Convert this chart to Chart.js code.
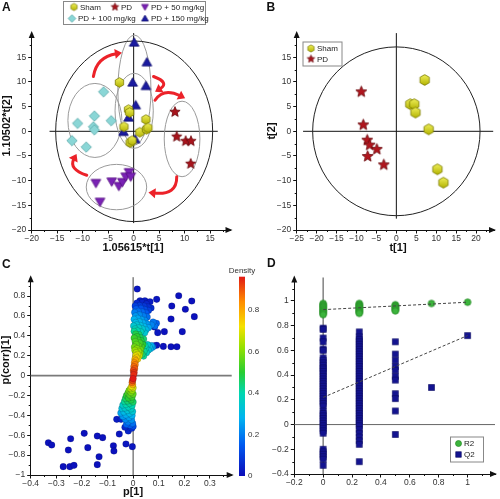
<!DOCTYPE html>
<html>
<head>
<meta charset="utf-8">
<script src="https://cdn.jsdelivr.net/npm/chart.js@4.4.1/dist/chart.umd.min.js"></script>
<style>
  html, body { margin: 0; padding: 0; background: #fff; }
  #wrap { position: relative; width: 500px; height: 499px; overflow: hidden; }
  canvas { position: absolute; }
</style>
</head>
<body>
<div id="wrap">
  <canvas id="chartA" width="250" height="260" style="left:0;top:0"></canvas>
  <canvas id="chartB" width="250" height="260" style="left:250px;top:0"></canvas>
  <canvas id="chartC" width="270" height="249" style="left:0;top:250px"></canvas>
  <canvas id="chartD" width="250" height="249" style="left:250px;top:250px"></canvas>
</div>
<script>
// ---- Panel A: scores of the five groups ----
const shamA = [[-2.8, 9.9], [-1.0, 4.4], [-0.8, 3.8], [2.4, 2.4], [-1.9, 0.9], [1.2, -0.2], [2.5, 0.4], [2.8, 0.7], [-0.7, -2.3], [-0.3, -1.9]];
const pdA = [[8.1, 3.9], [8.45, -1.1], [10.2, -2.0], [11.25, -2.0], [11.2, -6.6]];
const pd50A = [[-7.4, -10.5], [-6.6, -14.3], [-4.3, -10.2], [-2.9, -11.1], [-2.2, -10.3], [-1.55, -9.2], [-0.9, -8.3], [-0.57, -9.2]];
const pd100A = [[-5.9, 8.0], [-7.7, 3.1], [-4.4, 2.15], [-11.0, 1.6], [-7.9, 0.9], [-7.7, 0.3], [-12.1, -1.9], [-9.3, -3.2]];
const pd150A = [[0.1, 18.0], [2.6, 14.0], [-0.2, 9.9], [2.4, 9.2], [0.4, 5.3], [-1.0, 2.8], [-2.0, -0.1], [0.3, -1.6]];
// group ellipses [cx, cy, rx, ry]
const groupEllipsesA = [[0.15, 8.35, 3.25, 11.15], [0.1, 4.15, 3.75, 7.6], [-7.6, 2.2, 5.3, 7.5], [9.5, -1.55, 3.5, 7.65], [-3.37, -11.3, 5.93, 4.6]];
const hotellingA = [0.1, 0, 15.4, 18.3];
// red arrows between groups [x0, y0, xVia, yVia, x1, y1]
const arrowsA = [
  [-7.9, 11.1, -6.2, 14.3, -2.3, 15.9],
  [3.9, 11.1, 5.6, 9.7, 4.2, 8.0],
  [4.2, 6.3, 6.5, 7.7, 10.1, 6.7],
  [8.45, -9.2, 7.1, -11.9, 2.9, -12.4],
  [-9.2, -8.9, -11.5, -7.2, -11.2, -4.6]
];

// ---- Panel B: Sham vs PD ----
const shamB = [[7.1, 10.4], [3.5, 5.5], [4.5, 5.5], [4.8, 3.8], [8.1, 0.4], [10.3, -7.7], [11.8, -10.4]];
const pdB = [[-8.8, 8.0], [-8.3, 1.3], [-7.3, -1.8], [-6.7, -2.8], [-4.9, -3.65], [-7.2, -5.1], [-3.15, -6.8]];
const hotellingB = [0, 0, 21, 17.1];

// ---- Panel C: S-plot [p1, pcorr, density] ----
const cBandUpper = [
  [0.002, 0.010, 0.94], [0.004, 0.030, 0.93], [0.001, 0.050, 0.91], [0.006, 0.070, 0.89], [0.003, 0.090, 0.87],
  [0.008, 0.110, 0.85], [0.005, 0.130, 0.83], [0.010, 0.150, 0.79], [0.007, 0.165, 0.77], [0.013, 0.180, 0.74],
  [0.018, 0.168, 0.72], [0.010, 0.198, 0.71], [0.017, 0.212, 0.69], [0.024, 0.200, 0.66], [0.012, 0.232, 0.65],
  [0.021, 0.244, 0.62], [0.007, 0.255, 0.62], [0.027, 0.228, 0.60], [0.015, 0.272, 0.60], [0.029, 0.262, 0.57],
  [0.005, 0.288, 0.58], [0.021, 0.298, 0.56], [0.033, 0.288, 0.53], [0.012, 0.314, 0.56], [0.026, 0.328, 0.53],
  [0.038, 0.312, 0.50], [0.008, 0.343, 0.54], [0.019, 0.358, 0.52], [0.031, 0.352, 0.49], [0.004, 0.378, 0.52],
  [0.015, 0.392, 0.50], [0.027, 0.383, 0.47], [0.041, 0.368, 0.45], [0.010, 0.418, 0.48], [0.023, 0.412, 0.45],
  [0.035, 0.215, 0.45], [0.041, 0.196, 0.42], [0.043, 0.245, 0.42], [0.052, 0.230, 0.37], [0.046, 0.300, 0.40],
  [0.056, 0.312, 0.35], [0.049, 0.275, 0.38], [0.059, 0.256, 0.33], [0.063, 0.290, 0.31], [0.067, 0.270, 0.29],
  [0.071, 0.302, 0.27], [0.076, 0.285, 0.24],
  [0.004, 0.445, 0.42], [0.016, 0.451, 0.40], [0.030, 0.440, 0.38], [0.045, 0.430, 0.34], [0.008, 0.470, 0.38],
  [0.022, 0.481, 0.36], [0.036, 0.470, 0.34], [0.050, 0.460, 0.30], [0.002, 0.500, 0.34], [0.014, 0.511, 0.33],
  [0.028, 0.505, 0.31], [0.042, 0.495, 0.29], [0.060, 0.482, 0.26], [0.010, 0.535, 0.30], [0.024, 0.541, 0.29],
  [0.038, 0.530, 0.27], [0.054, 0.520, 0.24], [0.072, 0.510, 0.21], [0.078, 0.540, 0.19], [0.085, 0.500, 0.18],
  [0.091, 0.526, 0.16], [0.004, 0.566, 0.28], [0.018, 0.576, 0.26], [0.032, 0.565, 0.25], [0.046, 0.556, 0.22],
  [0.010, 0.600, 0.24], [0.024, 0.611, 0.22], [0.040, 0.600, 0.20], [0.055, 0.590, 0.18], [0.006, 0.636, 0.20],
  [0.020, 0.646, 0.18], [0.035, 0.640, 0.17], [0.050, 0.630, 0.15], [0.012, 0.670, 0.15], [0.030, 0.676, 0.13],
  [0.045, 0.665, 0.12], [0.060, 0.655, 0.10], [0.008, 0.700, 0.10], [0.025, 0.706, 0.09], [0.042, 0.700, 0.08],
  [0.058, 0.690, 0.07], [0.070, 0.680, 0.06], [0.015, 0.731, 0.06], [0.035, 0.736, 0.05], [0.052, 0.721, 0.05]
];
const cBandLower = [
  [0.000, -0.030, 0.96], [-0.002, -0.050, 0.92], [-0.004, -0.070, 0.87], [-0.002, -0.090, 0.79], [-0.006, -0.110, 0.71],
  [0.000, -0.122, 0.68], [-0.010, -0.131, 0.64], [-0.004, -0.150, 0.62], [-0.016, -0.151, 0.58], [-0.008, -0.170, 0.58],
  [-0.020, -0.176, 0.54], [0.000, -0.186, 0.56], [-0.012, -0.196, 0.54], [-0.026, -0.201, 0.50], [-0.004, -0.215, 0.52],
  [-0.018, -0.226, 0.50], [-0.030, -0.231, 0.46], [-0.008, -0.245, 0.48], [-0.022, -0.256, 0.45], [0.000, -0.266, 0.46],
  [-0.034, -0.261, 0.42], [-0.014, -0.280, 0.42], [-0.028, -0.291, 0.40], [-0.004, -0.300, 0.40], [-0.040, -0.296, 0.36],
  [-0.018, -0.316, 0.38], [-0.032, -0.326, 0.35], [-0.008, -0.335, 0.36], [-0.044, -0.331, 0.32], [-0.022, -0.351, 0.33],
  [-0.002, -0.361, 0.34], [-0.036, -0.366, 0.30], [-0.014, -0.381, 0.30], [-0.048, -0.376, 0.26], [-0.028, -0.396, 0.27],
  [-0.004, -0.401, 0.28], [-0.040, -0.411, 0.24], [-0.016, -0.421, 0.25], [-0.030, -0.441, 0.22], [-0.006, -0.446, 0.23],
  [-0.020, -0.466, 0.20], [-0.002, -0.481, 0.18], [-0.012, -0.500, 0.15], [-0.026, -0.491, 0.16], [0.000, -0.511, 0.12]
];
const cOutliers = [
  [0.016, 0.871, 0.02], [0.027, 0.753, 0.03], [0.046, 0.753, 0.03], [0.066, 0.743, 0.03], [0.092, 0.767, 0.02],
  [0.178, 0.804, 0.01], [0.229, 0.750, 0.01], [0.151, 0.700, 0.01], [0.204, 0.667, 0.01], [0.239, 0.593, 0.01],
  [0.148, 0.569, 0.01], [0.192, 0.442, 0.01], [0.122, 0.442, 0.01], [0.096, 0.432, 0.02], [0.083, 0.490, 0.03],
  [0.092, 0.305, 0.02], [0.118, 0.294, 0.01], [0.148, 0.291, 0.01], [0.171, 0.291, 0.01], [0.082, 0.300, 0.04],
  [-0.064, -0.440, 0.03], [-0.047, -0.440, 0.04], [-0.019, -0.557, 0.05], [-0.005, -0.530, 0.06], [-0.032, -0.520, 0.05],
  [-0.054, -0.588, 0.02], [-0.028, -0.688, 0.02], [-0.003, -0.715, 0.02], [-0.077, -0.705, 0.01], [-0.075, -0.759, 0.01],
  [-0.140, -0.608, 0.01], [-0.119, -0.624, 0.01], [-0.133, -0.816, 0.01], [-0.140, -0.896, 0.01], [-0.191, -0.581, 0.01],
  [-0.177, -0.725, 0.01], [-0.244, -0.635, 0.01], [-0.253, -0.749, 0.01], [-0.273, -0.916, 0.01], [-0.247, -0.916, 0.01],
  [-0.231, -0.903, 0.01], [-0.331, -0.675, 0.01], [-0.318, -0.698, 0.01]
];
const densityTicks = [0, 0.2, 0.4, 0.6, 0.8];
const densityMax = 0.96;

// ---- Panel D: permutation test ----
const r2At0 = [0.98, 0.97, 0.96, 0.95, 0.94, 0.93, 0.92, 0.91, 0.90, 0.89];
const r2At025 = [0.98, 0.97, 0.96, 0.95, 0.94, 0.93, 0.92, 0.91, 0.90];
const r2At05 = [0.97, 0.96, 0.95, 0.94, 0.93, 0.92];
const r2At075 = [0.98];
const r2At1 = [0.99];
const q2At0 = [0.78, 0.77, 0.70, 0.67, 0.61, 0.60, 0.54, 0.52, 0.50, 0.48, 0.46, 0.45, 0.43, 0.41, 0.39, 0.37, 0.35, 0.33,
  0.31, 0.29, 0.27, 0.25, 0.23, 0.21, 0.19, 0.17, 0.15, 0.11, 0.09, 0.07, 0.05, 0.03, 0.01, -0.01, -0.03, -0.05, -0.07,
  -0.20, -0.22, -0.24, -0.26, -0.28, -0.33];
const q2At025 = [0.75, 0.71, 0.69, 0.67, 0.65, 0.63, 0.61, 0.59, 0.57, 0.55, 0.53, 0.51, 0.49, 0.47, 0.45, 0.43, 0.41, 0.39,
  0.37, 0.35, 0.33, 0.31, 0.29, 0.27, 0.25, 0.23, 0.21, 0.19, 0.17, 0.15, 0.13, 0.11, 0.09, 0.07, 0.05, 0.03, 0.01, -0.01,
  -0.04, -0.07, -0.10, -0.13, -0.16, -0.30];
const q2At05 = [0.67, 0.57, 0.52, 0.47, 0.44, 0.39, 0.36, 0.25, 0.21, 0.11, -0.08];
const q2At075 = [0.30];
const q2At1 = [0.72];
const r2Line = [[0, 0.93], [1, 0.99]];
const q2Line = [[0, 0.22], [1, 0.72]];

// ---------------------------------------------------------------
const FONT = "'Liberation Sans', Arial, sans-serif";
Chart.defaults.font.family = FONT;
Chart.defaults.font.size = 9;
Chart.defaults.color = '#222';

const toXY = arr => arr.map(p => ({ x: p[0], y: p[1] }));
const column = (x, ys) => ys.map(y => ({ x: x, y: y }));
const fmt = v => { const r = Math.round(v * 100) / 100; return (r < 0 ? '\u2212' : '') + Math.abs(r); };

// jet-like colour map used in panel C
const densityStops = [[0, [12, 12, 185]], [0.15, [0, 90, 240]], [0.28, [0, 180, 240]], [0.4, [0, 215, 175]],
  [0.5, [40, 205, 50]], [0.62, [150, 225, 0]], [0.72, [245, 225, 0]], [0.84, [255, 140, 0]], [0.96, [225, 25, 20]]];
function densityColor(d) {
  for (let i = 1; i < densityStops.length; i++) {
    const [v1, c1] = densityStops[i], [v0, c0] = densityStops[i - 1];
    if (d <= v1 || i === densityStops.length - 1) {
      const t = Math.max(0, Math.min(1, (d - v0) / (v1 - v0)));
      return 'rgb(' + c0.map((c, k) => Math.round(c + (c1[k] - c) * t)).join(',') + ')';
    }
  }
}

// marker images
function marker(shape, r, fill, stroke, lw) {
  const s = Math.ceil(2 * r + 3), c = document.createElement('canvas');
  c.width = c.height = s;
  const g = c.getContext('2d'), m = s / 2;
  const poly = (n, start, radii) => {
    for (let i = 0; i < n; i++) {
      const a = start + i * 2 * Math.PI / n, rr = radii[i % radii.length];
      i ? g.lineTo(m + rr * Math.cos(a), m + rr * Math.sin(a)) : g.moveTo(m + rr * Math.cos(a), m + rr * Math.sin(a));
    }
    g.closePath();
  };
  g.beginPath();
  if (shape === 'hex') poly(6, -Math.PI / 2, [r]);
  else if (shape === 'star') poly(10, -Math.PI / 2, [r, r * 0.45]);
  else if (shape === 'tri') { g.translate(0, r * 0.15); poly(3, -Math.PI / 2, [r]); }
  else if (shape === 'triDown') { g.translate(0, -r * 0.15); poly(3, Math.PI / 2, [r]); }
  else if (shape === 'diamond') poly(4, -Math.PI / 2, [r]);
  else if (shape === 'circle') g.arc(m, m, r, 0, Math.PI * 2);
  else if (shape === 'square') g.rect(m - r, m - r, 2 * r, 2 * r);
  if (Array.isArray(fill)) {
    const gr = g.createLinearGradient(0, m - r, 0, m + r);
    gr.addColorStop(0, fill[0]); gr.addColorStop(1, fill[1]);
    g.fillStyle = gr;
  } else g.fillStyle = fill;
  g.fill();
  g.lineWidth = lw; g.strokeStyle = stroke; g.stroke();
  return c;
}
const HEX_FILL = ['#f0f05a', '#b2b200'];
const mk = {
  hexA: marker('hex', 4.8, HEX_FILL, '#7a7a00', 0.8),
  starA: marker('star', 5.4, '#a8141c', '#6a0a0e', 0.8),
  tri50A: marker('triDown', 5.6, '#7a22b5', '#561080', 0.8),
  dia100A: marker('diamond', 5.2, '#8ad6d6', '#5aa8a8', 0.8),
  tri150A: marker('tri', 5.6, '#1b1ba0', '#101070', 0.8),
  hexB: marker('hex', 5.4, HEX_FILL, '#7a7a00', 0.8),
  starB: marker('star', 5.8, '#b0161e', '#6a0a0e', 0.8),
  circD: marker('circle', 3.3, '#3cb43c', '#238a23', 0.8),
  sqD: marker('square', 3.0, '#131390', '#0b0b60', 0.6),
  hexL: marker('hex', 3.6, HEX_FILL, '#7a7a00', 0.7),
  starL: marker('star', 4.0, '#a8141c', '#6a0a0e', 0.7),
  tri50L: marker('triDown', 4.0, '#7a22b5', '#561080', 0.7),
  dia100L: marker('diamond', 3.8, '#8ad6d6', '#5aa8a8', 0.7),
  tri150L: marker('tri', 4.0, '#1b1ba0', '#101070', 0.7),
  circL: marker('circle', 3.0, '#3cb43c', '#238a23', 0.7),
  sqL: marker('square', 2.8, '#131390', '#0b0b60', 0.6)
};

// drawing helper plugin: zero lines, ellipses, arrows, axis arrows, minor ticks, titles, legends
const decor = {
  id: 'decor',
  beforeDatasetsDraw(chart, args, o) {
    const { ctx, scales: { x, y } } = chart;
    const rv = (s, v) => s.getPixelForValue(v === 'min' ? s.min : v === 'max' ? s.max : v);
    ctx.save();
    (o.lines || []).forEach(l => {
      ctx.beginPath();
      ctx.strokeStyle = l.color; ctx.lineWidth = l.width;
      ctx.moveTo(rv(x, l.from[0]), rv(y, l.from[1]));
      ctx.lineTo(rv(x, l.to[0]), rv(y, l.to[1]));
      ctx.stroke();
    });
    (o.ellipses || []).forEach(set => {
      set.list.forEach(e => {
        const cx = x.getPixelForValue(e[0]), cy = y.getPixelForValue(e[1]);
        const rx = Math.abs(x.getPixelForValue(e[0] + e[2]) - cx);
        const ry = Math.abs(y.getPixelForValue(e[1] + e[3]) - cy);
        ctx.beginPath();
        ctx.ellipse(cx, cy, rx, ry, 0, 0, Math.PI * 2);
        ctx.strokeStyle = set.color; ctx.lineWidth = set.width;
        ctx.stroke();
      });
    });
    ctx.restore();
  },
  afterDatasetsDraw(chart, args, o) {
    if (!o.arrows) return;
    const { ctx, scales: { x, y } } = chart;
    ctx.save();
    ctx.strokeStyle = o.arrowColor; ctx.fillStyle = o.arrowColor;
    o.arrows.forEach(a => {
      const p0 = [x.getPixelForValue(a[0]), y.getPixelForValue(a[1])];
      const pv = [x.getPixelForValue(a[2]), y.getPixelForValue(a[3])];
      const p1 = [x.getPixelForValue(a[4]), y.getPixelForValue(a[5])];
      const cp = [2 * pv[0] - (p0[0] + p1[0]) / 2, 2 * pv[1] - (p0[1] + p1[1]) / 2];
      const dx = p1[0] - cp[0], dy = p1[1] - cp[1], len = Math.hypot(dx, dy);
      const ux = dx / len, uy = dy / len, head = 7;
      const e = [p1[0] - ux * head * 0.8, p1[1] - uy * head * 0.8];
      ctx.beginPath();
      ctx.lineWidth = 3; ctx.lineCap = 'round';
      ctx.moveTo(p0[0], p0[1]);
      ctx.quadraticCurveTo(cp[0], cp[1], e[0], e[1]);
      ctx.stroke();
      ctx.beginPath();
      ctx.moveTo(p1[0], p1[1]);
      ctx.lineTo(p1[0] - ux * head - uy * 5, p1[1] - uy * head + ux * 5);
      ctx.lineTo(p1[0] - ux * head + uy * 5, p1[1] - uy * head - ux * 5);
      ctx.closePath();
      ctx.fill();
    });
    ctx.restore();
  },
  afterDraw(chart, args, o) {
    const { ctx, chartArea: ca, scales: { x, y } } = chart;
    ctx.save();
    // minor ticks
    ctx.strokeStyle = '#111'; ctx.lineWidth = 1;
    [[x, true], [y, false]].forEach(([s, isX]) => {
      const t = s.ticks;
      if (t.length < 2) return;
      const step = t[1].value - t[0].value;
      for (let v = t[0].value + step / 2; v < s.max; v += step) {
        const p = Math.round(s.getPixelForValue(v)) + 0.5;
        ctx.beginPath();
        if (isX) { ctx.moveTo(p, ca.bottom); ctx.lineTo(p, ca.bottom + 2); }
        else { ctx.moveTo(ca.left, p); ctx.lineTo(ca.left - 2, p); }
        ctx.stroke();
      }
    });
    // axis arrowheads
    ctx.fillStyle = '#111';
    ctx.beginPath();
    ctx.moveTo(ca.right + 2, ca.bottom); ctx.lineTo(ca.right - 5, ca.bottom - 3); ctx.lineTo(ca.right - 5, ca.bottom + 3);
    ctx.closePath(); ctx.fill();
    ctx.beginPath();
    ctx.moveTo(ca.left, ca.top - 2); ctx.lineTo(ca.left - 3, ca.top + 5); ctx.lineTo(ca.left + 3, ca.top + 5);
    ctx.closePath(); ctx.fill();
    // axis titles and panel letter
    ctx.fillStyle = '#111';
    ctx.textAlign = 'center'; ctx.textBaseline = 'middle';
    ctx.font = 'bold 11px ' + FONT;
    if (o.xTitle) ctx.fillText(o.xTitle.text, o.xTitle.x, o.xTitle.y);
    if (o.yTitle) {
      ctx.save(); ctx.translate(o.yTitle.x, o.yTitle.y); ctx.rotate(-Math.PI / 2);
      ctx.fillText(o.yTitle.text, 0, 0); ctx.restore();
    }
    ctx.font = 'bold 12px ' + FONT;
    ctx.textAlign = 'left'; ctx.textBaseline = 'alphabetic';
    ctx.fillText(o.letter.text, o.letter.x, o.letter.y);
    // legend box
    if (o.legend) {
      const L = o.legend;
      ctx.fillStyle = '#fff'; ctx.strokeStyle = '#888'; ctx.lineWidth = 1;
      ctx.fillRect(L.box[0], L.box[1], L.box[2], L.box[3]);
      ctx.strokeRect(L.box[0] + 0.5, L.box[1] + 0.5, L.box[2], L.box[3]);
      ctx.font = '8px ' + FONT; ctx.fillStyle = '#222'; ctx.textBaseline = 'middle';
      L.items.forEach(it => {
        ctx.drawImage(it.img, it.x - it.img.width / 2, it.y - it.img.height / 2);
        ctx.fillText(it.text, it.tx, it.y + 0.5);
      });
    }
    // colour bar
    if (o.colorbar) {
      const cb = o.colorbar, h = cb.bottom - cb.top;
      const gr = ctx.createLinearGradient(0, cb.bottom, 0, cb.top);
      densityStops.forEach(([v, c]) => gr.addColorStop(Math.min(1, v / densityMax), 'rgb(' + c.join(',') + ')'));
      ctx.fillStyle = gr;
      ctx.fillRect(cb.x, cb.top, cb.w, h);
      ctx.font = '8px ' + FONT; ctx.fillStyle = '#333';
      ctx.textAlign = 'left'; ctx.textBaseline = 'middle';
      densityTicks.forEach(v => ctx.fillText(String(v), cb.x + cb.w + 3, cb.bottom - v / densityMax * h));
      ctx.textAlign = 'center';
      ctx.fillText('Density', cb.x + cb.w / 2, cb.top - 6);
    }
    ctx.restore();
  }
};
Chart.register(decor);

function axis(min, max, step, fit, isX) {
  return {
    type: 'linear', min: min, max: max,
    afterFit: s => { if (isX) s.height = fit; else s.width = fit; },
    ticks: { stepSize: step, includeBounds: false, padding: isX ? 0 : 2, color: '#333', font: { size: 8.5 }, callback: v => fmt(v) },
    grid: { drawOnChartArea: false, drawTicks: true, tickLength: 3.5, tickColor: '#111', color: '#111' },
    border: { display: true, color: '#111', width: 1 }
  };
}
function baseOptions(pad, scales, decorOpts) {
  return {
    responsive: false, animation: false,
    layout: { padding: pad },
    scales: scales,
    plugins: { legend: { display: false }, tooltip: { enabled: false }, decor: decorOpts }
  };
}
const imgSet = (data, img) => ({ data: toXY(data), pointStyle: img, pointRadius: 5, pointHoverRadius: 5 });

// ---------------- A ----------------
new Chart(document.getElementById('chartA'), {
  type: 'scatter',
  data: { datasets: [
    imgSet(shamA, mk.hexA), imgSet(pdA, mk.starA), imgSet(pd50A, mk.tri50A),
    imgSet(pd100A, mk.dia100A), imgSet(pd150A, mk.tri150A)
  ] },
  options: baseOptions({ left: 0, top: 33.1, right: 19.5, bottom: 0 },
    { x: axis(-20, 19, 5, 30, true), y: axis(-20, 19.9, 5, 31.7, false) },
    {
      lines: [{ from: [-16.5, 0], to: [16.5, 0], color: '#111', width: 1 },
              { from: [0, 'max'], to: [0, -18.6], color: '#111', width: 1 }],
      ellipses: [{ list: groupEllipsesA, color: '#9a9a9a', width: 1 }, { list: [hotellingA], color: '#222', width: 1 }],
      arrows: arrowsA, arrowColor: '#ec2229',
      xTitle: { text: '1.05615*t[1]', x: 133, y: 248 },
      yTitle: { text: '1.10502*t[2]', x: 7, y: 126 },
      letter: { text: 'A', x: 2, y: 11 },
      legend: { box: [63, 1, 142, 23], items: [
        { img: mk.hexL, x: 74, y: 7, text: 'Sham', tx: 80 },
        { img: mk.starL, x: 115, y: 7, text: 'PD', tx: 121 },
        { img: mk.tri50L, x: 145, y: 7, text: 'PD + 50 mg/kg', tx: 151 },
        { img: mk.dia100L, x: 72, y: 18.5, text: 'PD + 100 mg/kg', tx: 78 },
        { img: mk.tri150L, x: 145, y: 18.5, text: 'PD + 150 mg/kg', tx: 151 }
      ] }
    })
});

// ---------------- B ----------------
new Chart(document.getElementById('chartB'), {
  type: 'scatter',
  data: { datasets: [imgSet(shamB, mk.hexB), imgSet(pdB, mk.starB)] },
  options: baseOptions({ left: 0, top: 33.1, right: 2.5, bottom: 0 },
    { x: axis(-25, 24.5, 5, 30, true), y: axis(-20, 19.9, 5, 46.7, false) },
    {
      lines: [{ from: [-23.4, 0], to: [24.3, 0], color: '#111', width: 1 },
              { from: [0, 'max'], to: [0, -17.7], color: '#111', width: 1 }],
      ellipses: [{ list: [hotellingB], color: '#222', width: 1 }],
      xTitle: { text: 't[1]', x: 148, y: 248 },
      yTitle: { text: 't[2]', x: 21.5, y: 131 },
      letter: { text: 'B', x: 16.5, y: 11 },
      legend: { box: [52.5, 41.5, 39, 24], items: [
        { img: mk.hexL, x: 61, y: 48.5, text: 'Sham', tx: 67 },
        { img: mk.starL, x: 61, y: 59, text: 'PD', tx: 67 }
      ] }
    })
});

// ---------------- C ----------------
const cAll = cOutliers.concat(cBandLower, cBandUpper).slice().sort((a, b) => a[2] - b[2]);
new Chart(document.getElementById('chartC'), {
  type: 'scatter',
  data: { datasets: [{
    data: cAll.map(p => ({ x: p[0], y: p[1] })),
    pointRadius: 3.3, pointHoverRadius: 3.3,
    backgroundColor: cAll.map(p => densityColor(p[2])),
    borderColor: 'rgba(0,0,40,0.28)', borderWidth: 0.6
  }] },
  options: baseOptions({ left: 0, top: 27.2, right: 38.3, bottom: 0 },
    { x: axis(-0.4, 0.385, 0.1, 24, true), y: axis(-1, 0.99, 0.2, 30.7, false) },
    {
      lines: [{ from: ['min', 0], to: ['max', 0], color: '#7a7a7a', width: 1.6 },
              { from: [0, 'max'], to: [0, 'min'], color: '#444', width: 1 }],
      xTitle: { text: 'p[1]', x: 133, y: 242 },
      yTitle: { text: 'p(corr)[1]', x: 6, y: 110 },
      letter: { text: 'C', x: 2, y: 18 },
      colorbar: { x: 239, w: 6, top: 26.7, bottom: 226 }
    })
});

// ---------------- D ----------------
const r2Points = [].concat(column(0, r2At0), column(0.25, r2At025), column(0.5, r2At05), column(0.75, r2At075), column(1, r2At1));
const q2Points = [].concat(column(0, q2At0), column(0.25, q2At025), column(0.5, q2At05), column(0.75, q2At075), column(1, q2At1));
const regLine = pts => ({ data: toXY(pts), showLine: true, pointRadius: 0, borderColor: '#444', borderWidth: 1, borderDash: [3, 2] });
new Chart(document.getElementById('chartD'), {
  type: 'scatter',
  data: { datasets: [
    regLine(r2Line), regLine(q2Line),
    { data: r2Points, pointStyle: mk.circD, pointRadius: 4 },
    { data: q2Points, pointStyle: mk.sqD, pointRadius: 4 }
  ] },
  options: baseOptions({ left: 0, top: 27.5, right: 1.4, bottom: 0 },
    { x: axis(-0.2, 1.19, 0.2, 25, true), y: axis(-0.4, 1.19, 0.2, 44.3, false) },
    {
      lines: [{ from: [0, 'min'], to: [0, 'max'], color: '#8a8a8a', width: 1.6 },
              { from: ['min', 0], to: ['max', 0], color: '#666', width: 1 }],
      letter: { text: 'D', x: 17, y: 17 },
      legend: { box: [200, 186.5, 33, 25], items: [
        { img: mk.circL, x: 208.5, y: 193.5, text: 'R2', tx: 214 },
        { img: mk.sqL, x: 208.5, y: 204.5, text: 'Q2', tx: 214 }
      ] }
    })
});
</script>
</body>
</html>
